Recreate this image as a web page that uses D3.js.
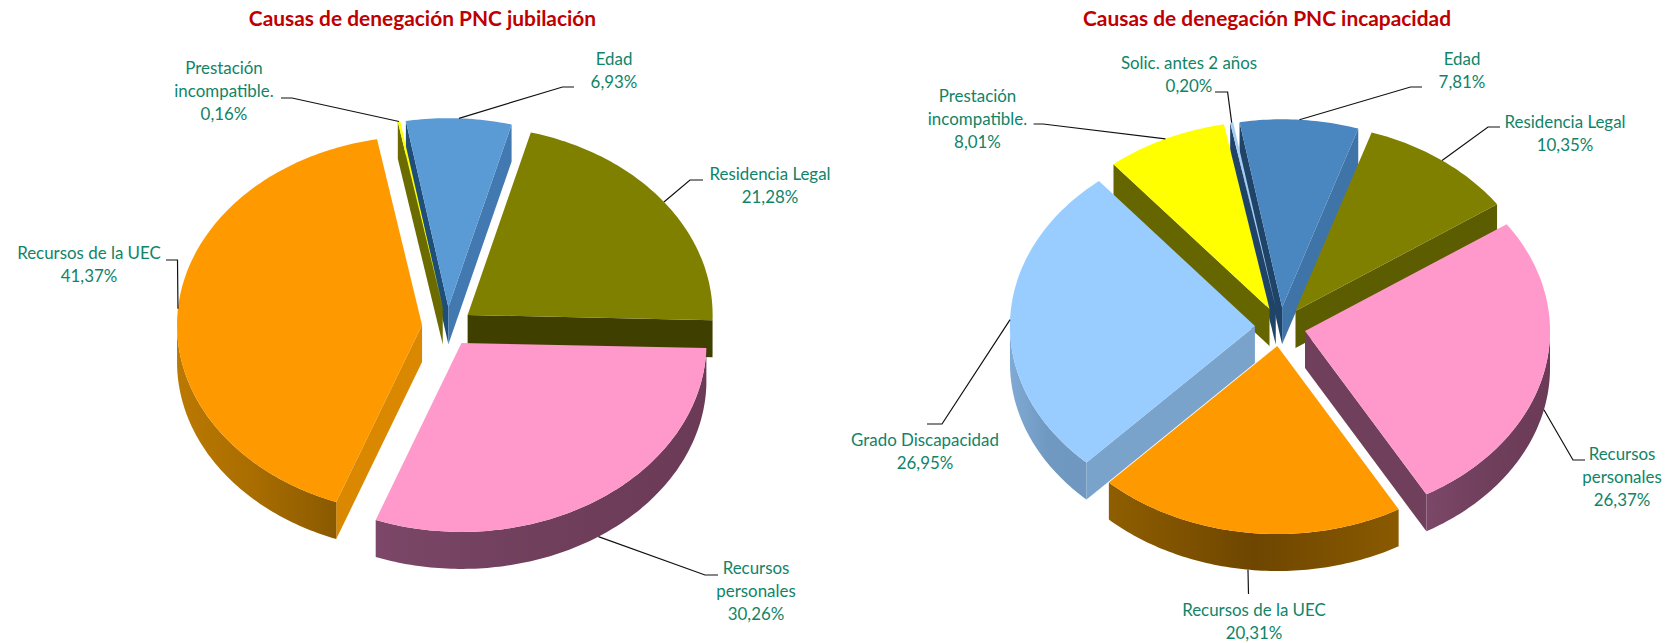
<!DOCTYPE html>
<html>
<head>
<meta charset="utf-8">
<script src="https://cdn.jsdelivr.net/npm/d3@7"></script>
<style>
  html, body { margin: 0; padding: 0; background: #fff; }
  text { font-family: Lato, "Open Sans", sans-serif; }
</style>
</head>
<body>
<div id="chart"></div>
<script>
// Values, clockwise from the top of each pie
const jubilacionLabels = [['Edad'], ['Residencia Legal'], ['Recursos', 'personales'], ['Recursos de la UEC'], ['Prestación', 'incompatible.']]
const jubilacionValues = [6.93, 21.28, 30.26, 41.37, 0.16]
const incapacidadLabels = [['Edad'], ['Residencia Legal'], ['Recursos', 'personales'], ['Recursos de la UEC'], ['Grado Discapacidad'], ['Prestación', 'incompatible.'], ['Solic. antes 2 años']]
const incapacidadValues = [7.81, 10.35, 26.37, 20.31, 26.95, 8.01, 0.2]

// Colours, one per slice: top, outer wall (left, middle, right), start cut face, end cut face
const jubilacionColors = [
  ['#5b9bd5', ['#3f6f9c', '#3f6f9c', '#3f6f9c'], '#1f4e79', '#4179b0'],
  ['#808000', ['#3f3f00', '#3f3f00', '#3f3f00'], '#3f3f00', '#3f3f00'],
  ['#ff99cc', ['#7c4768', '#6f3f5c', '#6a3a56'], '#6f3f5c', '#6f3f5c'],
  ['#ff9900', ['#bb7900', '#a86c00', '#8a5a00'], '#d98800', '#d98800'],
  ['#ffff00', ['#6b6b00', '#6b6b00', '#6b6b00'], '#6b6b00', '#6b6b00']
]
const incapacidadColors = [
  ['#4a86c0', ['#2f5f8f', '#2f5f8f', '#2f5f8f'], '#1f4468', '#3f74a8'],
  ['#808000', ['#5c5c00', '#5c5c00', '#5c5c00'], '#5c5c00', '#5c5c00'],
  ['#ff99cc', ['#7c4768', '#6f3f5c', '#6a3a56'], '#6f3f5c', '#6f3f5c'],
  ['#ff9900', ['#8f5e00', '#6e4600', '#8a5a00'], '#7a4f00', '#7a4f00'],
  ['#99ccff', ['#80a9d3', '#7099c2', '#6f97c0'], '#7aa3cc', '#7aa3cc'],
  ['#ffff00', ['#666600', '#666600', '#666600'], '#666600', '#666600'],
  ['#a6cdf2', ['#2f5f8f', '#2f5f8f', '#2f5f8f'], '#1f4468', '#1f4468']
]

// Label layout: centre x, line centre y, leader bend points after the rim point
const jubilacionLayout = [
  { x: 614, y: 59, leader: [[562.5, 87], [574, 87]] },
  { x: 770, y: 174, leader: [[690, 180], [703, 180]] },
  { x: 756, y: 568, leader: [[705, 575], [718, 575]] },
  { x: 89, y: 253, leader: [[177.5, 260], [166, 260]] },
  { x: 224, y: 68.5, leader: [[292, 98], [281, 98]] }
]
const incapacidadLayout = [
  { x: 1462, y: 59, leader: [[1410.5, 87], [1422, 87]] },
  { x: 1565, y: 122, leader: [[1488, 127], [1500, 127]] },
  { x: 1622, y: 454, leader: [[1573, 460], [1585, 460]] },
  { x: 1254, y: 610, leader: [[1248.5, 594]] },
  { x: 925, y: 440, leader: [[942, 424], [927, 424]] },
  { x: 977.5, y: 96, leader: [[1043, 124], [1033.6, 124]] },
  { x: 1189, y: 63, leader: [[1227.6, 92], [1215, 92]] }
]

const width = 1675
const height = 643
const rx = 245
const depth = 37
const explode = 0.1035
const lineGap = 23

const svg = d3.select('#chart').append('svg').attr('width', width).attr('height', height)
const defs = svg.append('defs')

function drawPie(opts) {
  const { id, title, titleX, cx, cy, ry, labels, values, colors, layout } = opts

  // Projection of the tilted disc, unit circle to screen
  const xs = d3.scaleLinear().domain([-1, 1]).range([cx - rx, cx + rx])
  const ys = d3.scaleLinear().domain([-1, 1]).range([cy - ry, cy + ry])

  const pie = d3.pie().sort(null)
    .startAngle(-10 * Math.PI / 180)
    .endAngle(350 * Math.PI / 180)

  const slices = pie(values).map((d, i) => {
    const mid = (d.startAngle + d.endAngle) / 2
    const ox = Math.sin(mid) * explode
    const oy = -Math.cos(mid) * explode
    return { ...d, i, mid, ox, oy }
  })

  const pt = (s, a, down = 0, r = 1) => [
    xs(s.ox + Math.sin(a) * r),
    ys(s.oy - Math.cos(a) * r) + down
  ]
  const arcPoints = (s, a0, a1, down = 0) => {
    const n = Math.max(2, Math.ceil(Math.abs(a1 - a0) * 60))
    return d3.range(n + 1).map(k => pt(s, a0 + (a1 - a0) * k / n, down))
  }
  const line = d3.line()
  const g = svg.append('g')

  // Back slices first: the further the apex is up the page the earlier it is painted
  const order = slices.slice().sort((a, b) => ys(a.oy) - ys(b.oy))

  order.forEach(s => {
    const [top, wall, cutStart, cutEnd] = colors[s.i]
    const sg = g.append('g')
    const apex = pt(s, 0, 0, 0)
    const apexDown = pt(s, 0, depth, 0)

    if (Math.sin(s.startAngle) < 0) {
      sg.append('path')
        .attr('d', line([apex, pt(s, s.startAngle), pt(s, s.startAngle, depth), apexDown]) + 'Z')
        .attr('fill', cutStart)
    }
    if (Math.sin(s.endAngle) > 0) {
      sg.append('path')
        .attr('d', line([apex, pt(s, s.endAngle), pt(s, s.endAngle, depth), apexDown]) + 'Z')
        .attr('fill', cutEnd)
    }

    // Outer wall only where the rim faces the viewer
    const a0 = Math.max(s.startAngle, Math.PI / 2)
    const a1 = Math.min(s.endAngle, 3 * Math.PI / 2)
    if (a1 > a0) {
      const gid = `wall-${id}-${s.i}`
      const grad = defs.append('linearGradient').attr('id', gid)
      grad.append('stop').attr('offset', '0%').attr('stop-color', wall[0])
      grad.append('stop').attr('offset', '50%').attr('stop-color', wall[1])
      grad.append('stop').attr('offset', '100%').attr('stop-color', wall[2])
      const upper = arcPoints(s, a0, a1)
      const lower = arcPoints(s, a1, a0, depth)
      sg.append('path')
        .attr('d', line(upper.concat(lower)) + 'Z')
        .attr('fill', `url(#${gid})`)
    }

    sg.append('path')
      .attr('d', line([apex].concat(arcPoints(s, s.startAngle, s.endAngle))) + 'Z')
      .attr('fill', top)
  })

  // Leader lines start on the rim at the middle of each slice
  slices.forEach(s => {
    const down = Math.cos(s.mid) < 0 ? depth : 0
    const place = layout[s.i]
    g.append('path')
      .attr('d', line([pt(s, s.mid, down)].concat(place.leader)))
      .attr('fill', 'none')
      .attr('stroke', '#111')
      .attr('stroke-width', 1.2)
  })

  slices.forEach(s => {
    const place = layout[s.i]
    const lines = labels[s.i].concat(s.value.toFixed(2).replace('.', ',') + '%')
    g.append('text')
      .attr('text-anchor', 'middle')
      .attr('font-size', 16.9)
      .attr('fill', '#0f8468')
      .selectAll('tspan')
      .data(lines)
      .join('tspan')
      .attr('x', place.x)
      .attr('y', (d, k) => place.y + 5.5 + k * lineGap)
      .text(d => d)
  })

  svg.append('text')
    .attr('x', titleX)
    .attr('y', 26)
    .attr('text-anchor', 'middle')
    .attr('font-size', 20.9)
    .attr('font-weight', 700)
    .attr('fill', '#c00000')
    .text(title)
}

drawPie({
  id: 'jub', title: 'Causas de denegación PNC jubilación', titleX: 422.5,
  cx: 447.3, cy: 326.7, ry: 189,
  labels: jubilacionLabels, values: jubilacionValues, colors: jubilacionColors, layout: jubilacionLayout
})
drawPie({
  id: 'inc', title: 'Causas de denegación PNC incapacidad', titleX: 1267,
  cx: 1280.3, cy: 326.7, ry: 188,
  labels: incapacidadLabels, values: incapacidadValues, colors: incapacidadColors, layout: incapacidadLayout
})
</script>
</body>
</html>
